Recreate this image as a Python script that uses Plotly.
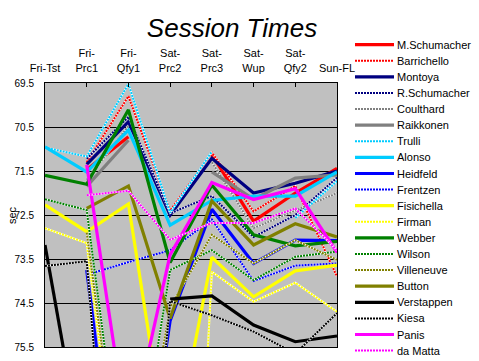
import plotly.graph_objects as go

sessions = ["Fri-Tst", "Fri-Prc1", "Fri-Qfy1", "Sat-Prc2", "Sat-Prc3", "Sat-Wup", "Sat-Qfy2", "Sun-FL"]
session_labels = ["Fri-Tst", "Fri-<br>Prc1", "Fri-<br>Qfy1", "Sat-<br>Prc2", "Sat-<br>Prc3",
                  "Sat-<br>Wup", "Sat-<br>Qfy2", "Sun-FL"]
y_ticks = [69.5, 70.5, 71.5, 72.5, 73.5, 74.5, 75.5]
y_tick_labels = ["69.5", "70.5", "71.5", "72.5", "73.5", "74.5", "75.5"]

drivers = ["M.Schumacher", "Barrichello", "Montoya", "R.Schumacher", "Coulthard", "Raikkonen",
           "Trulli", "Alonso", "Heidfeld", "Frentzen", "Fisichella", "Firman", "Webber", "Wilson",
           "Villeneuve", "Button", "Verstappen", "Kiesa", "Panis", "da Matta"]

m_schumacher = [None, 71.47, 70.72, None, 71.12, 72.64, 72.00, 71.44]
barrichello = [None, 71.30, 69.80, 72.40, 71.08, 72.42, 71.84, 73.90]
montoya = [None, 71.35, 70.38, 72.50, 71.21, 72.00, 71.78, 71.50]
r_schumacher = [None, 71.22, 70.27, 72.46, 72.07, 73.00, 72.50, 71.65]
coulthard = [None, 71.70, 70.48, None, 71.30, 72.80, 72.40, 72.00]
raikkonen = [None, 71.85, 70.80, None, 71.52, 72.14, 71.66, 71.59]
trulli = [70.97, 71.17, 69.52, 72.45, 71.06, None, 72.57, 71.73]
alonso = [70.95, 71.52, 70.57, 72.73, 72.17, 72.07, 72.07, 71.52]
heidfeld = [None, 73.75, 81.30, 74.90, 72.37, 73.60, 73.07, 73.08]
frentzen = [None, 73.86, 73.57, 73.30, 72.60, 74.00, 73.65, 73.60]
fisichella = [72.27, 72.88, 72.25, 78.30, 73.46, 74.36, 73.77, 73.64]
firman = [72.80, 73.14, 80.50, 92.00, 73.79, 74.47, 74.04, 74.70]
webber = [71.60, 71.80, 70.11, 73.58, 71.82, 72.95, 73.20, 73.10]
wilson = [72.14, 72.39, 79.60, 73.75, 73.30, 73.98, 73.45, 73.33]
villeneuve = [None, 72.90, 80.00, 74.60, 72.95, 73.60, 73.07, 73.52]
button = [None, 72.35, 71.84, 74.85, 72.18, 73.18, 72.70, 73.00]
verstappen = [73.18, 78.50, None, 74.41, 74.34, 75.00, 75.38, 75.25]
kiesa = [73.66, 73.55, 85.00, 74.46, 74.78, 75.15, 75.65, 74.73]
panis = [None, 71.36, 77.65, 73.40, 71.76, 72.15, 71.90, 73.35]
da_matta = [None, 72.05, 71.95, 73.06, 72.68, 72.68, 72.35, 73.30]

series = [m_schumacher, barrichello, montoya, r_schumacher, coulthard, raikkonen, trulli, alonso,
          heidfeld, frentzen, fisichella, firman, webber, wilson, villeneuve, button, verstappen,
          kiesa, panis, da_matta]

colors = ["#FF0000", "#FF0000", "#000080", "#000080", "#808080", "#808080", "#00CCFF", "#00CCFF",
          "#0000FF", "#0000FF", "#FFFF00", "#FFFF00", "#008000", "#008000", "#808000", "#808000",
          "#000000", "#000000", "#FF00FF", "#FF00FF"]
solid = [True, False, True, False, False, True, False, True, True, False, True, False, True, False,
         False, True, True, False, True, False]

DOT = "2px,1px"
THICK = 3.2

fig = go.Figure()
for name, vals, col, thick in zip(drivers, series, colors, solid):
    if thick:
        fig.add_trace(go.Scatter(x=sessions, y=vals, mode="lines", name=name, connectgaps=False,
                                 line=dict(color=col, width=THICK), showlegend=False))
    else:
        fig.add_trace(go.Scatter(x=sessions, y=vals, mode="lines", name=name, connectgaps=False,
                                 line=dict(color="#FFFFFF", width=2), showlegend=False,
                                 hoverinfo="skip"))
        fig.add_trace(go.Scatter(x=sessions, y=vals, mode="lines", name=name, connectgaps=False,
                                 line=dict(color=col, width=2, dash=DOT), showlegend=False))

# plot geometry in pixels (for the hand-drawn legend)
L, R, T, B = 45, 337, 83, 347


def px_x(px):
    return (px - L) / (R - L)


def px_y(py):
    return (B - py) / (B - T)


shapes = []
annotations = []
for k, (name, col, thick) in enumerate(zip(drivers, colors, solid)):
    yy = px_y(44.7 + 16.1 * k)
    if thick:
        shapes.append(dict(type="line", xref="paper", yref="paper", x0=px_x(355), x1=px_x(394),
                           y0=yy, y1=yy, line=dict(color=col, width=THICK)))
    else:
        shapes.append(dict(type="line", xref="paper", yref="paper", x0=px_x(355), x1=px_x(394),
                           y0=yy, y1=yy, line=dict(color=col, width=2, dash=DOT)))
    annotations.append(dict(text=name, xref="paper", yref="paper", x=px_x(395), y=yy,
                            xanchor="left", yanchor="middle", showarrow=False,
                            font=dict(family="Liberation Sans, Arial", size=11, color="black")))

annotations.append(dict(text="sec", xref="paper", yref="paper", x=px_x(12), y=0.5,
                        xanchor="center", yanchor="middle", textangle=-90, showarrow=False,
                        font=dict(family="Liberation Sans, Arial", size=11, color="black")))

fig.update_layout(
    width=479, height=361,
    margin=dict(l=L, r=479 - R, t=T, b=361 - B, pad=0, autoexpand=False),
    paper_bgcolor="white", plot_bgcolor="#C0C0C0",
    title=dict(text="Session Times", x=232 / 479, xanchor="center", y=1 - 28 / 361,
               yanchor="middle", xref="container", yref="container",
               font=dict(family="Liberation Sans, Arial", size=26, color="black", style="italic")),
    xaxis=dict(type="category", categoryorder="array", categoryarray=sessions, range=[0, 7],
               side="top", tickvals=sessions, ticktext=session_labels, ticks="inside", ticklen=4,
               tickcolor="black", showline=True, linecolor="black", mirror=True, showgrid=False,
               zeroline=False, ticklabelstandoff=6, automargin=False,
               tickfont=dict(family="Liberation Sans, Arial", size=11, color="black")),
    yaxis=dict(range=[75.5, 69.5], tickvals=y_ticks, ticktext=y_tick_labels, showgrid=True,
               gridcolor="black", gridwidth=1, showline=True, linecolor="black", mirror=True,
               zeroline=False, ticks="", ticklabelstandoff=8, automargin=False,
               tickfont=dict(family="Liberation Sans, Arial", size=10, color="black")),
    shapes=shapes, annotations=annotations,
    showlegend=False,
)

fig.write_html("out.html", config={"displayModeBar": False},
               post_script="document.body.style.margin='0';document.body.style.overflow='hidden';")
